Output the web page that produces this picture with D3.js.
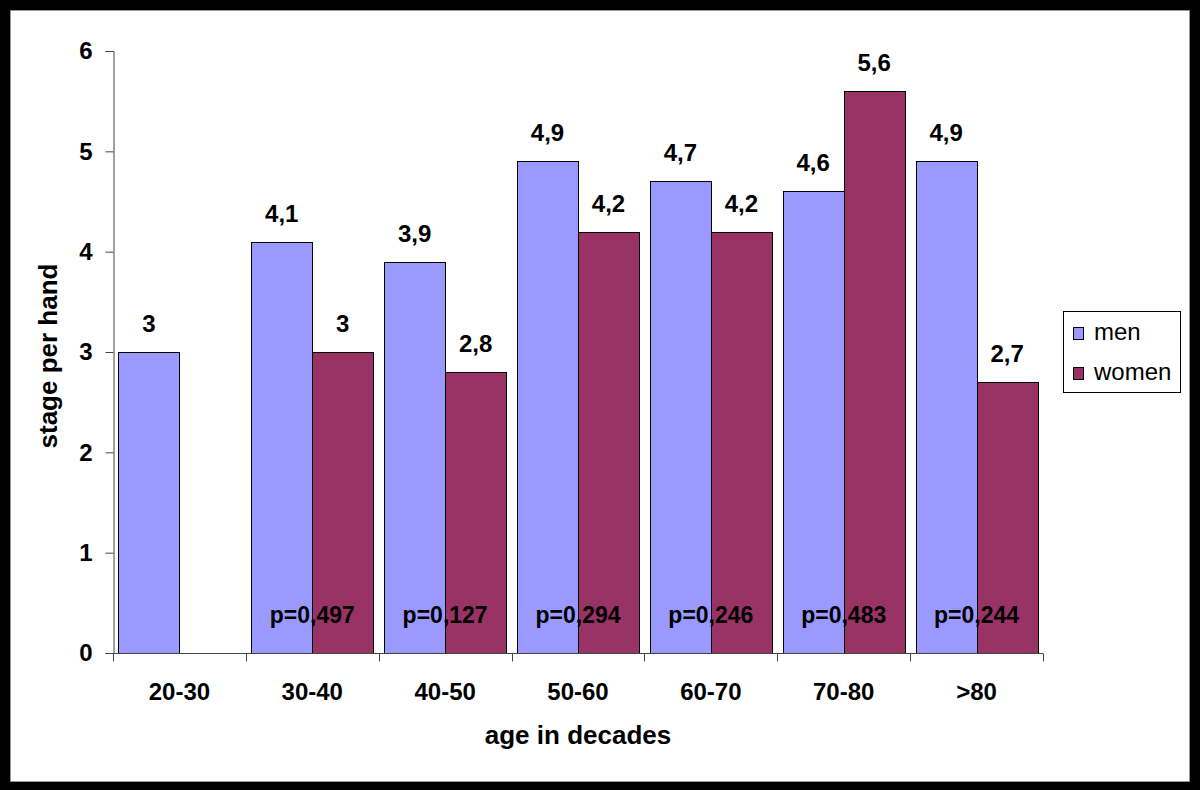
<!DOCTYPE html>
<html>
<head>
<meta charset="utf-8">
<script src="https://cdn.jsdelivr.net/npm/d3@7"></script>
<style>
  html, body { margin: 0; padding: 0; background: #000; }
  svg { display: block; }
  text { font-family: "Liberation Sans", Arial, sans-serif; }
</style>
</head>
<body>
<svg id="chart" width="1200" height="790"></svg>
<script>
const categories = ["20-30", "30-40", "40-50", "50-60", "60-70", "70-80", ">80"];
const seriesNames = ["men", "women"];
const menValues = [3, 4.1, 3.9, 4.9, 4.7, 4.6, 4.9];
const womenValues = [null, 3, 2.8, 4.2, 4.2, 5.6, 2.7];
const pValues = [null, "p=0,497", "p=0,127", "p=0,294", "p=0,246", "p=0,483", "p=0,244"];
const yTicks = [0, 1, 2, 3, 4, 5, 6];
const colors = { men: "#9999FF", women: "#993366" };

const svg = d3.select("#chart");
const W = 1200, H = 790;

// frame
svg.append("rect").attr("x", 0).attr("y", 0).attr("width", W).attr("height", H).attr("fill", "#000");
svg.append("rect").attr("x", 10.5).attr("y", 10.5).attr("width", 1179).attr("height", 771)
  .attr("fill", "#fff").attr("stroke", "#999").attr("stroke-width", 1);

const plot = { left: 113, right: 1043, top: 51, bottom: 653 };

const x = d3.scaleBand().domain(categories).range([plot.left, plot.right]).paddingInner(0).paddingOuter(0);
const x1 = d3.scaleBand().domain(seriesNames).range([0, x.bandwidth()]).paddingInner(0).paddingOuter(0.089);
const y = d3.scaleLinear().domain([0, 6]).range([plot.bottom, plot.top]);

const fmt = v => String(v).replace(".", ",");

const rows = categories.map((c, i) => ({ cat: c, men: menValues[i], women: womenValues[i], p: pValues[i] }));

// bars
const g = svg.append("g");
rows.forEach(r => {
  seriesNames.forEach(s => {
    const v = r[s];
    if (v == null) return;
    const bx = x(r.cat) + x1(s);
    g.append("rect")
      .attr("x", Math.round(bx) + 0.5)
      .attr("y", Math.round(y(v)) + 0.5)
      .attr("width", Math.round(x1.bandwidth()))
      .attr("height", Math.round(y(0)) - Math.round(y(v)))
      .attr("fill", colors[s])
      .attr("stroke", "#000")
      .attr("stroke-width", 1);
    g.append("text")
      .attr("x", bx + x1.bandwidth() / 2)
      .attr("y", y(v) - 20)
      .attr("text-anchor", "middle")
      .attr("font-size", 24).attr("font-weight", "bold").attr("fill", "#000")
      .text(fmt(v));
  });
  if (r.p) {
    g.append("text")
      .attr("x", x(r.cat) + x.bandwidth() / 2)
      .attr("y", y(0) - 30)
      .attr("text-anchor", "middle")
      .attr("font-size", 23).attr("font-weight", "bold").attr("fill", "#000")
      .text(r.p);
  }
});

// y axis
const yAxis = d3.axisLeft(y).tickValues(yTicks).tickSize(8).tickPadding(13).tickFormat(d3.format("d"));
const yg = svg.append("g").attr("transform", `translate(${plot.left + 0.5},0)`).call(yAxis);
yg.select(".domain").attr("stroke", "#444");
yg.selectAll(".tick line").attr("stroke", "#444");
yg.selectAll(".tick text").attr("font-size", 24).attr("font-weight", "bold")
  .attr("font-family", "Liberation Sans, Arial, sans-serif").attr("fill", "#000");

// x axis
const xg = svg.append("g").attr("transform", `translate(0,${plot.bottom + 0.5})`);
xg.append("line").attr("x1", plot.left).attr("x2", plot.right).attr("stroke", "#444");
const bounds = categories.map(c => x(c)).concat([x(categories[categories.length - 1]) + x.bandwidth()]);
xg.selectAll(".bt").data(bounds).enter().append("line")
  .attr("x1", d => Math.round(d) + 0.5).attr("x2", d => Math.round(d) + 0.5)
  .attr("y1", 0).attr("y2", 8).attr("stroke", "#444");
xg.selectAll(".cl").data(categories).enter().append("text")
  .attr("x", d => x(d) + x.bandwidth() / 2)
  .attr("y", 46)
  .attr("text-anchor", "middle")
  .attr("font-size", 24).attr("font-weight", "bold").attr("fill", "#000")
  .text(d => d);

// axis titles
svg.append("text")
  .attr("x", (plot.left + plot.right) / 2).attr("y", 744)
  .attr("text-anchor", "middle")
  .attr("font-size", 26).attr("font-weight", "bold").attr("fill", "#000")
  .text("age in decades");
svg.append("text")
  .attr("transform", `translate(57,${(plot.top + plot.bottom) / 2 + 4}) rotate(-90)`)
  .attr("text-anchor", "middle")
  .attr("font-size", 26).attr("font-weight", "bold").attr("fill", "#000")
  .text("stage per hand");

// legend
const lg = svg.append("g");
lg.append("rect").attr("x", 1063.5).attr("y", 311.5).attr("width", 117).attr("height", 81)
  .attr("fill", "#fff").attr("stroke", "#000").attr("stroke-width", 1);
seriesNames.forEach((s, i) => {
  const yy = 327 + i * 40;
  lg.append("rect").attr("x", 1073.5).attr("y", yy + 0.5).attr("width", 10).attr("height", 12)
    .attr("fill", colors[s]).attr("stroke", "#000").attr("stroke-width", 1);
  lg.append("text").attr("x", 1094).attr("y", yy + 12.5)
    .attr("font-size", 24).attr("fill", "#000").text(s);
});
</script>
</body>
</html>
